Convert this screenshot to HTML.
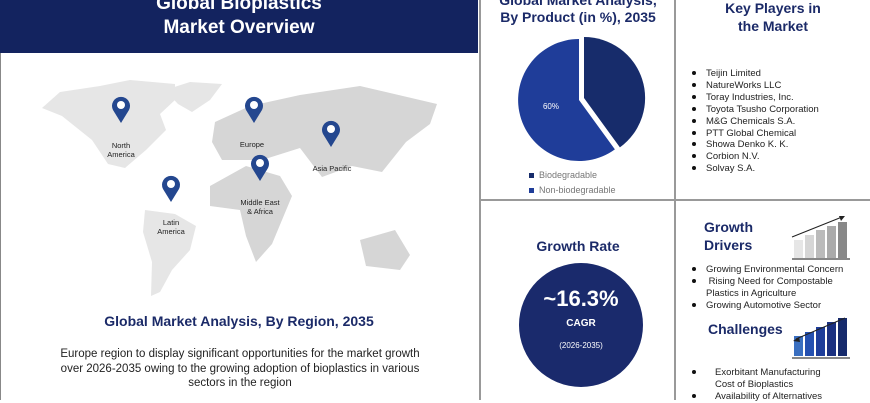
<!DOCTYPE html>
<html><head><meta charset="utf-8"><style>
body{margin:0;width:870px;height:400px;background:#fff;font-family:"Liberation Sans",sans-serif;overflow:hidden;position:relative}
.a{position:absolute}
.t{color:#1b2a68;font-weight:bold;text-align:center}
ul{margin:0;padding:0;list-style:none}
li{position:relative;padding-left:16px;font-size:9.5px;color:#222;line-height:11.9px}
li:before{content:"";position:absolute;left:2px;top:3px;width:4px;height:4px;border-radius:50%;background:#111}
</style></head><body>
<div class="a" style="left:0;top:0;width:478px;height:53px;background:#13235f"></div>
<div class="a" style="left:0;top:-8px;width:478px;text-align:center;color:#fff;font-weight:bold;font-size:19px;line-height:24px">Global Bioplastics<br>Market Overview</div>
<div class="a" style="left:0;top:53px;width:1px;height:347px;background:#888"></div>
<div class="a" style="left:479px;top:0;width:2px;height:400px;background:#999"></div>
<div class="a" style="left:674px;top:0;width:2px;height:400px;background:#999"></div>
<div class="a" style="left:480px;top:199px;width:390px;height:2px;background:#999"></div>
<svg class="a" style="left:0;top:0" width="480" height="400">
<g fill="#e6e6e6">
<path d="M42,108 L60,92 L100,86 L130,80 L175,84 L175,100 L160,114 L166,130 L146,150 L125,168 L108,164 L92,140 L62,116Z"/>
<path d="M165,90 L190,82 L222,84 L210,100 L192,112 L178,104Z"/>
<path d="M145,210 L175,214 L196,226 L190,250 L172,270 L160,292 L151,296 L152,262 L143,232Z"/>
</g>
<g fill="#d6d6d6">
<path d="M215,122 L250,106 L300,95 L360,86 L437,104 L430,124 L406,142 L382,172 L352,166 L322,177 L300,148 L262,160 L222,160 L212,142Z"/>
<path d="M210,186 L246,166 L280,176 L292,196 L272,244 L256,262 L246,236 L240,210 L210,206Z"/>
<path d="M360,240 L395,230 L410,255 L400,270 L366,266Z"/>
</g>
<g fill="#24478f">
<g transform="translate(121,108)"><path d="M0,15 L-8,2 A9,9 0 1 1 8,2Z"/><circle r="4" cy="-3" fill="#fff"/></g>
<g transform="translate(254,108)"><path d="M0,15 L-8,2 A9,9 0 1 1 8,2Z"/><circle r="4" cy="-3" fill="#fff"/></g>
<g transform="translate(331,132)"><path d="M0,15 L-8,2 A9,9 0 1 1 8,2Z"/><circle r="4" cy="-3" fill="#fff"/></g>
<g transform="translate(260,166)"><path d="M0,15 L-8,2 A9,9 0 1 1 8,2Z"/><circle r="4" cy="-3" fill="#fff"/></g>
<g transform="translate(171,187)"><path d="M0,15 L-8,2 A9,9 0 1 1 8,2Z"/><circle r="4" cy="-3" fill="#fff"/></g>
</g>
<g font-size="7.5" fill="#222" text-anchor="middle" font-family="Liberation Sans">
<text x="121" y="148">North</text><text x="121" y="157">America</text>
<text x="252" y="147">Europe</text>
<text x="332" y="171">Asia Pacific</text>
<text x="260" y="205">Middle East</text><text x="260" y="214">&amp; Africa</text>
<text x="171" y="225">Latin</text><text x="171" y="234">America</text>
</g>
</svg>
<div class="a t" style="left:0;top:313px;width:478px;font-size:14px">Global Market Analysis, By Region, 2035</div>
<div class="a" style="left:54px;top:347px;width:372px;text-align:center;font-size:11.5px;line-height:14.6px;color:#222">Europe region to display significant opportunities for the market growth over 2026-2035 owing to the growing adoption of bioplastics in various sectors in the region</div>

<div class="a t" style="left:480px;top:-8px;width:196px;font-size:14px;line-height:17px">Global Market Analysis,<br>By Product (in %), 2035</div>
<svg class="a" style="left:480px;top:34px" width="196" height="140">
<path d="M99,66 L134.9,115.4 A61,61 0 1 1 99,5 Z" fill="#1f3d99"/>
<path d="M104,64 L104,3 A61,61 0 0 1 139.9,113.4 Z" fill="#172c6b"/>
<text x="71" y="75" font-size="8" fill="#fff" text-anchor="middle" font-family="Liberation Sans">60%</text>
</svg>
<div class="a" style="left:529px;top:168px;font-size:9px;color:#777;line-height:15px"><span style="display:inline-block;width:5px;height:5px;background:#172c6b;margin-right:5px"></span>Biodegradable<br><span style="display:inline-block;width:5px;height:5px;background:#1f3d99;margin-right:5px"></span>Non-biodegradable</div>

<div class="a t" style="left:676px;top:-1px;width:194px;font-size:14px;line-height:18px">Key Players in<br>the Market</div>
<ul class="a" style="left:690px;top:68px">
<li>Teijin Limited</li><li>NatureWorks LLC</li><li>Toray Industries, Inc.</li><li>Toyota Tsusho Corporation</li><li>M&amp;G Chemicals S.A.</li><li>PTT Global Chemical</li><li>Showa Denko K. K.</li><li>Corbion N.V.</li><li>Solvay S.A.</li>
</ul>

<div class="a t" style="left:480px;top:238px;width:196px;font-size:14px">Growth Rate</div>
<div class="a" style="left:519px;top:263px;width:124px;height:124px;border-radius:50%;background:#1a2a6c"></div>
<div class="a" style="left:519px;top:286px;width:124px;text-align:center;color:#fff;font-weight:bold;font-size:22px">~16.3%</div>
<div class="a" style="left:519px;top:318px;width:124px;text-align:center;color:#fff;font-weight:bold;font-size:10px">CAGR</div>
<div class="a" style="left:519px;top:341px;width:124px;text-align:center;color:#fff;font-size:8px">(2026-2035)</div>

<div class="a t" style="left:704px;top:218px;font-size:14px;line-height:18px;text-align:left">Growth<br>Drivers</div>
<svg class="a" style="left:790px;top:212px" width="60" height="50">
<rect x="4" y="28" width="9" height="18" fill="#e6e6e6"/><rect x="15" y="23" width="9" height="23" fill="#d6d6d6"/><rect x="26" y="18" width="9" height="28" fill="#bbb"/><rect x="37" y="14" width="9" height="32" fill="#aaa"/><rect x="48" y="10" width="9" height="36" fill="#888"/>
<line x1="2" y1="47" x2="60" y2="47" stroke="#888" stroke-width="2"/>
<line x1="2" y1="25" x2="52" y2="5" stroke="#222"/><path d="M55,4 L49,4 L51,9Z" fill="#222"/>
</svg>
<ul class="a" style="left:690px;top:264px">
<li>Growing Environmental Concern</li><li>&nbsp;Rising Need for Compostable<br>Plastics in Agriculture</li><li>Growing Automotive Sector</li>
</ul>
<div class="a t" style="left:708px;top:321px;font-size:14px">Challenges</div>
<svg class="a" style="left:790px;top:316px" width="60" height="45">
<rect x="4" y="20" width="9" height="20" fill="#3a6fc0"/><rect x="15" y="16" width="9" height="24" fill="#2450b0"/><rect x="26" y="11" width="9" height="29" fill="#1d3d9a"/><rect x="37" y="6" width="9" height="34" fill="#1a3080"/><rect x="48" y="2" width="9" height="38" fill="#162a6c"/>
<line x1="2" y1="42" x2="60" y2="42" stroke="#888" stroke-width="2"/>
<line x1="55" y1="2" x2="6" y2="23" stroke="#222"/><path d="M3,25 L9,21 L10,26Z" fill="#222"/>
</svg>
<ul class="a" style="left:690px;top:367px">
<li style="padding-left:25px">Exorbitant Manufacturing<br>Cost of Bioplastics</li><li style="padding-left:25px">Availability of Alternatives</li>
</ul>
</body></html>
